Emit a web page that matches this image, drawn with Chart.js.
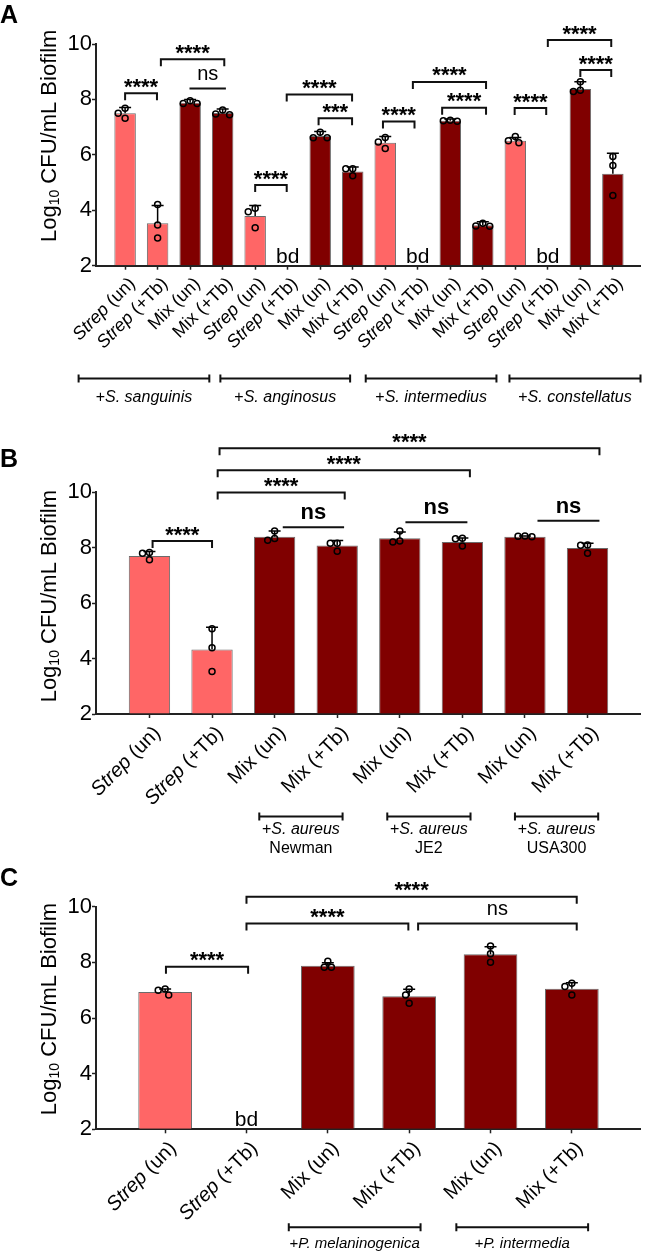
<!DOCTYPE html>
<html>
<head>
<meta charset="utf-8">
<script src="https://cdn.jsdelivr.net/npm/chart.js@4.4.1/dist/chart.umd.min.js"></script>
<style>
  html, body { margin: 0; padding: 0; background: #fff; }
  #wrap { position: relative; width: 646px; height: 1252px; overflow: hidden; }
  .panel { position: absolute; left: 0; width: 646px; }
</style>
</head>
<body>
<div id="wrap">
  <div class="panel" style="top:0;height:410px"><canvas id="chartA"></canvas></div>
  <div class="panel" style="top:410px;height:445px"><canvas id="chartB"></canvas></div>
  <div class="panel" style="top:855px;height:397px"><canvas id="chartC"></canvas></div>
</div>
<script>
// ---- data (log10 CFU/mL biofilm, null = below detection) ----
const yTicks = [2, 4, 6, 8, 10];

// A: Strep species alone or mixed, untreated / +Tb
const categoriesA = ['Strep (un)', 'Strep (+Tb)', 'Mix (un)', 'Mix (+Tb)',
                     'Strep (un)', 'Strep (+Tb)', 'Mix (un)', 'Mix (+Tb)',
                     'Strep (un)', 'Strep (+Tb)', 'Mix (un)', 'Mix (+Tb)',
                     'Strep (un)', 'Strep (+Tb)', 'Mix (un)', 'Mix (+Tb)'];
const meansA = [7.50, 3.53, 7.88, 7.51, 3.79, null, 6.68, 5.40, 6.44, null, 7.23, 3.46, 6.51, null, 8.38, 5.32];
const sdA    = [0.21, 0.64, 0.12, 0.14, 0.38, null, 0.16, 0.16, 0.22, null, 0.06, 0.13, 0.12, null, 0.26, 0.74];
const pointsA = [[7.68, 7.50, 7.32], [4.21, 3.47, 3.00], [7.95, 7.85, 7.85], [7.62, 7.47, 7.45],
                 [4.07, 3.95, 3.37], [], [6.82, 6.62, 6.62], [5.50, 5.50, 5.25],
                 [6.63, 6.46, 6.23], [], [7.25, 7.23, 7.21], [3.53, 3.43, 3.42],
                 [6.66, 6.51, 6.44], [], [8.64, 8.33, 8.29], [5.94, 5.62, 4.53]];
const groupsA = ['+S. sanguinis', '+S. anginosus', '+S. intermedius', '+S. constellatus'];

// B: S. aureus strains
const categoriesB = ['Strep (un)', 'Strep (+Tb)', 'Mix (un)', 'Mix (+Tb)', 'Mix (un)', 'Mix (+Tb)', 'Mix (un)', 'Mix (+Tb)'];
const meansB = [7.70, 4.33, 8.40, 8.08, 8.34, 8.21, 8.40, 7.99];
const sdB    = [0.16, 0.80, 0.20, 0.18, 0.23, 0.14, 0.02, 0.17];
const pointsB = [[7.83, 7.80, 7.57], [5.08, 4.39, 3.53], [8.60, 8.33, 8.27], [8.16, 8.16, 7.87],
                 [8.60, 8.24, 8.21], [8.34, 8.32, 8.06], [8.42, 8.41, 8.40], [8.10, 8.09, 7.80]];
const groupsB = ['+S. aureus', '+S. aureus', '+S. aureus'];
const strainsB = ['Newman', 'JE2', 'USA300'];

// C: Prevotella
const categoriesC = ['Strep (un)', 'Strep (+Tb)', 'Mix (un)', 'Mix (+Tb)', 'Mix (un)', 'Mix (+Tb)'];
const meansC = [6.93, null, 7.88, 6.78, 8.29, 7.05];
const sdC    = [0.11, null, 0.11, 0.25, 0.27, 0.22];
const pointsC = [[7.04, 7.00, 6.83], [], [8.04, 7.82, 7.82], [7.04, 6.83, 6.53], [8.59, 8.31, 8.00], [7.25, 7.13, 6.83]];
const groupsC = ['+P. melaninogenica', '+P. intermedia'];

// significance annotations: [from, to, y (data units), label, end ticks]
const bracketsA = [
  [0, 0.98, 8.22, '****', true], [1.1, 3.05, 9.45, '****', true], [1.98, 3.1, 8.39, 'ns', false],
  [4.0, 4.97, 4.91, '****', true], [4.97, 6.98, 8.18, '****', true], [5.95, 6.98, 7.32, '***', true],
  [7.93, 8.9, 7.2, '****', true], [8.85, 11.1, 8.63, '****', true], [9.75, 11.1, 7.7, '****', true],
  [11.98, 12.95, 7.69, '****', true], [13.0, 14.95, 10.14, '****', true], [14.0, 14.95, 9.06, '****', true]
];
const bracketsB = [
  [0.05, 1.0, 8.24, '****', true], [1.09, 3.12, 9.99, '****', true], [1.09, 5.12, 10.8, '****', true],
  [1.12, 7.19, 11.59, '****', true], [2.13, 3.11, 8.74, 'ns', false], [4.09, 5.08, 8.92, 'ns', false],
  [6.2, 7.19, 8.97, 'ns', false]
];
const bracketsC = [
  [0.01, 1.02, 7.84, '****', true], [1.0, 2.99, 9.4, '****', true], [1.0, 5.06, 10.36, '****', true],
  [3.11, 5.06, 9.4, 'ns', true]
];
// group underline spans along the category axis
const spansA = [[-1.43, 2.59], [2.93, 6.92], [7.4, 11.42], [11.82, 15.85]];
const spansB = [[1.755, 3.086], [3.8, 5.13], [5.84, 7.17]];
const spansC = [[1.52, 3.14], [3.58, 5.2]];

const FONT = "'Liberation Sans', Arial, Helvetica, sans-serif";
const LIGHT = '#ff6666';
const DARK = '#800000';
const AXIS = '#222';
const AXIS_LEFT = 96;

function fnt(size, it, bold) {
  return (it ? 'italic ' : '') + (bold ? 'bold ' : '') + size + 'px ' + FONT;
}
function labelParts(s) {
  if (s.startsWith('Strep')) return [{ t: 'Strep', it: true }, { t: s.slice(5) }];
  return [{ t: s }];
}
function speciesParts(s) {
  return s.startsWith('+') ? [{ t: '+' }, { t: s.slice(1), it: true }] : [{ t: s }];
}
function richWidth(ctx, parts, size) {
  let w = 0;
  parts.forEach(p => { ctx.font = fnt(size, p.it); w += ctx.measureText(p.t).width; });
  return w;
}
function drawRich(ctx, parts, x, y, size) {
  parts.forEach(p => { ctx.font = fnt(size, p.it); ctx.fillText(p.t, x, y); x += ctx.measureText(p.t).width; });
}
function centerText(ctx, str, x, cy) {
  const m = ctx.measureText(str);
  ctx.fillText(str, x, cy + (m.actualBoundingBoxAscent - m.actualBoundingBoxDescent) / 2);
}

// spread overlapping replicate points sideways (simple beeswarm, done in pixels)
function swarm(vals, i, slotPx, pxU) {
  const placed = [];
  const cands = [0, -3.6, 3.6, -7, 7, -10.5, 10.5];
  vals.slice().sort((a, b) => b - a).forEach(v => {
    const py = -v * pxU;
    let dx = 0;
    for (const c of cands) {
      if (placed.every(p => Math.hypot(p.dx - c, p.py - py) >= 6.8)) { dx = c; break; }
    }
    placed.push({ dx, py, v });
  });
  return placed.map(p => ({ x: i + p.dx / slotPx, y: p.v }));
}

function makePanel(o) {
  const n = o.categories.length;
  const canvasH = o.height;
  const y10 = o.y10 - o.top, axisY = o.y2 - o.top;
  const pxU = (axisY - y10) / 8;
  const slotPx = (646 - AXIS_LEFT) / (o.max - o.min);

  const barData = [], colors = [], pointData = [];
  o.means.forEach((m, i) => {
    if (m === null) return;
    barData.push({ x: i, y: m });
    colors.push(o.categories[i].startsWith('Strep') ? LIGHT : DARK);
  });
  o.points.forEach((vals, i) => { pointData.push(...swarm(vals, i, slotPx, pxU)); });

  const annot = {
    id: 'annot' + o.letter,
    afterDatasetDraw(chart, args) {
      if (args.index !== 0) return;
      const ctx = chart.ctx, xs = chart.scales.x, ys = chart.scales.y;
      ctx.save();
      ctx.strokeStyle = '#000';
      ctx.lineWidth = 1.5;
      o.means.forEach((m, i) => {
        if (m === null) return;
        const x = xs.getPixelForValue(i);
        const yTop = ys.getPixelForValue(m + o.sd[i]);
        ctx.beginPath();
        ctx.moveTo(x, ys.getPixelForValue(m));
        ctx.lineTo(x, yTop);
        ctx.moveTo(x - 6, yTop);
        ctx.lineTo(x + 6, yTop);
        ctx.stroke();
      });
      ctx.restore();
    },
    afterDraw(chart) {
      const ctx = chart.ctx, xs = chart.scales.x, ys = chart.scales.y;
      const area = chart.chartArea;
      ctx.save();
      ctx.fillStyle = '#000';
      ctx.strokeStyle = '#111';

      // panel letter
      ctx.font = fnt(25, false, true);
      ctx.textAlign = 'left';
      ctx.textBaseline = 'alphabetic';
      ctx.fillText(o.letter, 0, o.letterBase - o.top);

      // y title with subscript
      const tParts = [{ t: 'Log', s: 22 }, { t: '10', s: 14, d: 3 }, { t: ' CFU/mL Biofilm', s: 22 }];
      let tw = 0;
      tParts.forEach(p => { ctx.font = fnt(p.s); tw += ctx.measureText(p.t).width; });
      ctx.save();
      ctx.translate(56, (area.top + area.bottom) / 2 + o.titleShift);
      ctx.rotate(-Math.PI / 2);
      let tx = -tw / 2;
      tParts.forEach(p => { ctx.font = fnt(p.s); ctx.fillText(p.t, tx, p.d || 0); tx += ctx.measureText(p.t).width; });
      ctx.restore();

      // rotated category labels
      ctx.textBaseline = 'top';
      o.categories.forEach((c, i) => {
        const parts = labelParts(c);
        const w = richWidth(ctx, parts, o.labelSize);
        ctx.save();
        ctx.translate(xs.getPixelForValue(i) + 1, area.bottom + 9);
        ctx.rotate(-Math.PI / 4);
        drawRich(ctx, parts, -w, 0, o.labelSize);
        ctx.restore();
      });

      // below-detection marks
      ctx.textBaseline = 'alphabetic';
      ctx.textAlign = 'center';
      ctx.font = fnt(21);
      o.means.forEach((m, i) => {
        if (m === null) ctx.fillText('bd', xs.getPixelForValue(i), area.bottom - 3);
      });

      // significance brackets
      ctx.lineWidth = 2;
      o.brackets.forEach(([a, b, v, label, ends]) => {
        const x1 = xs.getPixelForValue(a), x2 = xs.getPixelForValue(b), y = ys.getPixelForValue(v);
        ctx.beginPath();
        if (ends) {
          ctx.moveTo(x1, y + 7); ctx.lineTo(x1, y); ctx.lineTo(x2, y); ctx.lineTo(x2, y + 7);
        } else {
          ctx.moveTo(x1, y); ctx.lineTo(x2, y);
        }
        ctx.stroke();
        const star = label.startsWith('*');
        ctx.font = star ? fnt(22, false, true) : fnt(o.nsBold ? 22 : 20, false, o.nsBold);
        centerText(ctx, label, (x1 + x2) / 2, y - (star ? 10 : 14));
      });

      // group underlines and names
      o.spans.forEach(([a, b], k) => {
        const x1 = xs.getPixelForValue(a), x2 = xs.getPixelForValue(b);
        const y = o.groupLine - o.top;
        ctx.beginPath();
        ctx.moveTo(x1, y); ctx.lineTo(x2, y);
        ctx.moveTo(x1, y - 4); ctx.lineTo(x1, y + 4);
        ctx.moveTo(x2, y - 4); ctx.lineTo(x2, y + 4);
        ctx.stroke();
        const parts = speciesParts(o.groups[k]);
        const w = richWidth(ctx, parts, o.groupSize);
        ctx.textAlign = 'left';
        drawRich(ctx, parts, (x1 + x2) / 2 - w / 2, y + o.groupGap, o.groupSize);
        if (o.strains) {
          ctx.font = fnt(o.groupSize);
          ctx.textAlign = 'center';
          ctx.fillText(o.strains[k], (x1 + x2) / 2, y + o.strainGap);
        }
      });
      ctx.restore();
    }
  };

  return new Chart(document.getElementById(o.id), {
    type: 'bar',
    data: {
      datasets: [
        { type: 'bar', data: barData, backgroundColor: colors, borderColor: 'rgba(70,70,70,0.8)',
          borderWidth: 1, base: 2, barPercentage: 0.66, categoryPercentage: 1, order: 2 },
        { type: 'scatter', data: pointData, pointRadius: 3, pointBorderWidth: 1.5,
          pointBorderColor: '#000', pointBackgroundColor: 'rgba(0,0,0,0)', order: 1 }
      ]
    },
    options: {
      responsive: true,
      maintainAspectRatio: false,
      animation: false,
      layout: { padding: { top: y10, left: 0, right: 0, bottom: 0 } },
      plugins: { legend: { display: false }, tooltip: { enabled: false } },
      scales: {
        x: {
          type: 'linear', min: o.min, max: o.max, offset: false,
          afterBuildTicks: ax => { ax.ticks = o.categories.map((c, i) => ({ value: i })); },
          afterFit: ax => { ax.height = canvasH - axisY; },
          ticks: { display: false },
          grid: { drawOnChartArea: false, drawTicks: true, tickLength: 4, tickWidth: 1.5, tickColor: AXIS, offset: false },
          border: { display: true, color: AXIS, width: 2 }
        },
        y: {
          type: 'linear', min: 2, max: 10,
          afterBuildTicks: ax => { ax.ticks = yTicks.map(v => ({ value: v })); },
          afterFit: ax => { ax.width = AXIS_LEFT; },
          ticks: { font: { family: FONT, size: 22 }, color: '#000', padding: 0 },
          grid: { drawOnChartArea: false, drawTicks: true, tickLength: 4, tickWidth: 1.5, tickColor: AXIS },
          border: { display: true, color: AXIS, width: 2 }
        }
      }
    },
    plugins: [annot]
  });
}

makePanel({ id: 'chartA', letter: 'A', top: 0, height: 410, y10: 44, y2: 265.7, letterBase: 23,
  categories: categoriesA, means: meansA, sd: sdA, points: pointsA, brackets: bracketsA,
  groups: groupsA, spans: spansA, min: -0.895, max: 15.85, titleShift: -19, labelSize: 18,
  nsBold: false, groupLine: 378.5, groupGap: 23, groupSize: 16 });

makePanel({ id: 'chartB', letter: 'B', top: 410, height: 445, y10: 492.3, y2: 714, letterBase: 466.7,
  categories: categoriesB, means: meansB, sd: sdB, points: pointsB, brackets: bracketsB,
  groups: groupsB, strains: strainsB, spans: spansB, min: -0.854, max: 7.846, titleShift: -7, labelSize: 20,
  nsBold: true, groupLine: 816.5, groupGap: 17, strainGap: 36.6, groupSize: 16 });

makePanel({ id: 'chartC', letter: 'C', top: 855, height: 397, y10: 906.7, y2: 1129.3, letterBase: 886,
  categories: categoriesC, means: meansC, sd: sdC, points: pointsC, brackets: bracketsC,
  groups: groupsC, spans: spansC, min: -0.85, max: 5.844, titleShift: -9, labelSize: 20,
  nsBold: false, groupLine: 1227.3, groupGap: 21, groupSize: 15 });
</script>
</body>
</html>
